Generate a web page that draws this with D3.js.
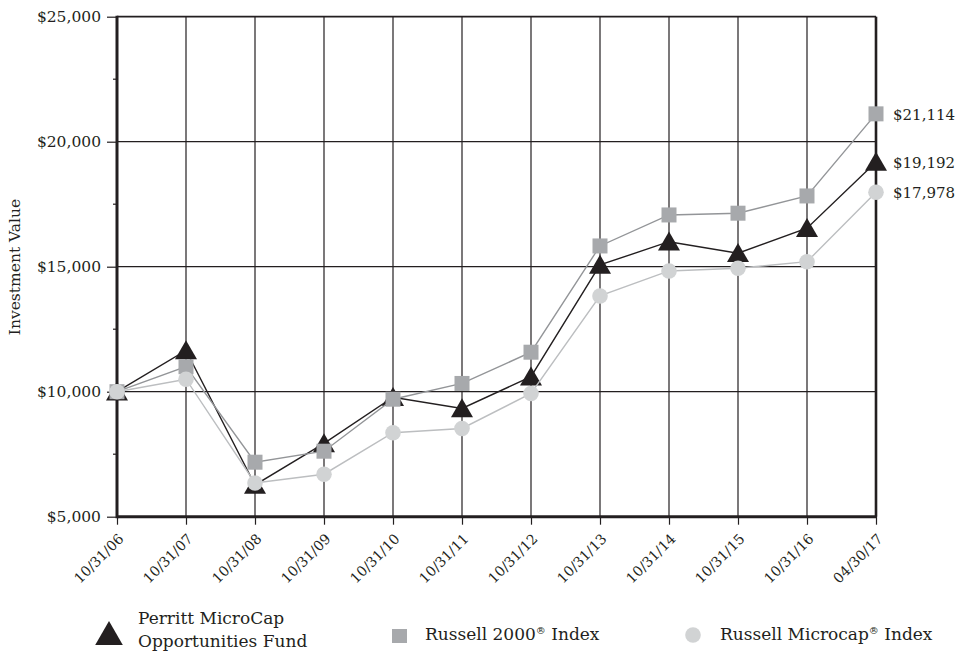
<!DOCTYPE html>
<html><head><meta charset="utf-8">
<script src="https://cdn.jsdelivr.net/npm/d3@7"></script>
<style>
body{margin:0;background:#fff;}
svg{display:block;font-family:"DejaVu Serif",serif;}
</style></head>
<body><svg id="c" width="969" height="656"></svg>
<script>
const dates = ["10/31/06","10/31/07","10/31/08","10/31/09","10/31/10","10/31/11","10/31/12","10/31/13","10/31/14","10/31/15","10/31/16","04/30/17"];
const perritt   = [10000,11650,6270,7930,9780,9330,10600,15070,16000,15540,16540,19192];
const russell2k = [10000,11000,7180,7620,9700,10330,11580,15830,17070,17140,17830,21114];
const microcap  = [10000,10500,6350,6700,8360,8530,9930,13830,14830,14940,15200,17978];
const yTicks = [5000,10000,15000,20000,25000];
const yMinor = [7500,12500,17500,22500];
const endLabels = ["$21,114","$19,192","$17,978"];

const ink = "#231f20", sqCol = "#a7a9ac", ciCol = "#d1d3d4";
const svg = d3.select("#c");
const L = 117, R = 876, T = 16.7, B = 516.7;
const x = d3.scalePoint().domain(dates).range([L, R]);
const y = d3.scaleLinear().domain([5000, 25000]).range([B, T]);
const fmt = d3.format("$,");

// grid
svg.append("g").selectAll("line").data(dates).join("line")
  .attr("x1", d => x(d)).attr("x2", d => x(d)).attr("y1", T).attr("y2", B)
  .attr("stroke", ink).attr("stroke-width", 1.2);
svg.append("g").selectAll("line").data([10000,15000,20000]).join("line")
  .attr("x1", L).attr("x2", R).attr("y1", d => y(d)).attr("y2", d => y(d))
  .attr("stroke", ink).attr("stroke-width", 1.2);

// y axis
const yAxis = d3.axisLeft(y).tickValues(yTicks).tickFormat(fmt).tickSize(10).tickPadding(6);
const gy = svg.append("g").attr("transform", `translate(${L},0)`).call(yAxis);
gy.select(".domain").remove();
gy.selectAll(".tick line").attr("stroke", ink).attr("stroke-width", 1.2);
gy.selectAll(".tick text").attr("font-family", "DejaVu Serif").attr("font-size", 15.5).attr("fill", ink);
svg.append("g").selectAll("line").data(yMinor).join("line")
  .attr("x1", L - 4).attr("x2", L).attr("y1", d => y(d)).attr("y2", d => y(d))
  .attr("stroke", ink).attr("stroke-width", 1.2);

// x axis
const xAxis = d3.axisBottom(x).tickSize(8).tickPadding(4);
const gx = svg.append("g").attr("transform", `translate(0,${B})`).call(xAxis);
gx.select(".domain").remove();
gx.selectAll(".tick line").attr("stroke", ink).attr("stroke-width", 1.2);
gx.selectAll(".tick text").attr("font-family", "DejaVu Serif").attr("font-size", 14).attr("fill", ink)
  .attr("text-anchor", "end").attr("dy", 0).attr("y", 0)
  .attr("transform", "translate(7,23) rotate(-45)");

// frame
svg.append("line").attr("x1", L).attr("x2", R).attr("y1", T).attr("y2", T).attr("stroke", ink).attr("stroke-width", 1.8);
svg.append("line").attr("x1", R).attr("x2", R).attr("y1", T).attr("y2", B).attr("stroke", ink).attr("stroke-width", 2.6);
svg.append("line").attr("x1", L).attr("x2", R + 1).attr("y1", B).attr("y2", B).attr("stroke", ink).attr("stroke-width", 3);
svg.append("line").attr("x1", L).attr("x2", L).attr("y1", T - 1).attr("y2", B + 1.5).attr("stroke", ink).attr("stroke-width", 3);

// y title
svg.append("text").attr("transform", `translate(20,267) rotate(-90)`).attr("text-anchor", "middle")
  .attr("font-size", 15.5).attr("fill", ink).text("Investment Value");

const line = d3.line().x((d, i) => x(dates[i])).y(d => y(d));
const tri = d3.symbol().type(d3.symbolTriangle).size(210);

// series: perritt (bottom), russell2000, microcap (top)
svg.append("path").datum(perritt).attr("d", line).attr("fill", "none").attr("stroke", ink).attr("stroke-width", 1.4);
svg.append("g").selectAll("path").data(perritt).join("path")
  .attr("d", tri).attr("transform", (d, i) => `translate(${x(dates[i])},${y(d) + 2.5})`).attr("fill", ink);

svg.append("path").datum(russell2k).attr("d", line).attr("fill", "none").attr("stroke", "#939598").attr("stroke-width", 1.4);
svg.append("g").selectAll("rect").data(russell2k).join("rect")
  .attr("x", (d, i) => x(dates[i]) - 7.5).attr("y", d => y(d) - 7.5).attr("width", 15).attr("height", 15).attr("fill", sqCol);

svg.append("path").datum(microcap).attr("d", line).attr("fill", "none").attr("stroke", "#bcbec0").attr("stroke-width", 1.4);
svg.append("g").selectAll("circle").data(microcap).join("circle")
  .attr("cx", (d, i) => x(dates[i])).attr("cy", d => y(d)).attr("r", 7.8).attr("fill", ciCol);

// end labels
const lastVals = [russell2k[11], perritt[11], microcap[11]];
svg.append("g").selectAll("text").data(lastVals).join("text")
  .attr("x", 893).attr("y", (d, i) => y(d) + 6)
  .attr("font-size", 15).attr("fill", ink).text((d, i) => endLabels[i]);

// legend
const lg = svg.append("g");
lg.append("path").attr("d", d3.symbol().type(d3.symbolTriangle).size(330)).attr("transform", "translate(109,637)").attr("fill", ink);
lg.append("text").attr("x", 138).attr("y", 624).attr("font-size", 17).attr("fill", ink).text("Perritt MicroCap");
lg.append("text").attr("x", 138).attr("y", 647).attr("font-size", 17).attr("fill", ink).text("Opportunities Fund");
lg.append("rect").attr("x", 392).attr("y", 629).attr("width", 15).attr("height", 14).attr("fill", sqCol);
const t2 = lg.append("text").attr("x", 425).attr("y", 640).attr("font-size", 17).attr("fill", ink);
t2.append("tspan").text("Russell 2000");
t2.append("tspan").attr("font-size", 10).attr("dy", -6).text("®");
t2.append("tspan").attr("dy", 6).text(" Index");
lg.append("circle").attr("cx", 693).attr("cy", 635).attr("r", 7.8).attr("fill", ciCol);
const t3 = lg.append("text").attr("x", 720).attr("y", 640).attr("font-size", 17).attr("fill", ink);
t3.append("tspan").text("Russell Microcap");
t3.append("tspan").attr("font-size", 10).attr("dy", -6).text("®");
t3.append("tspan").attr("dy", 6).text(" Index");
</script></body></html>
